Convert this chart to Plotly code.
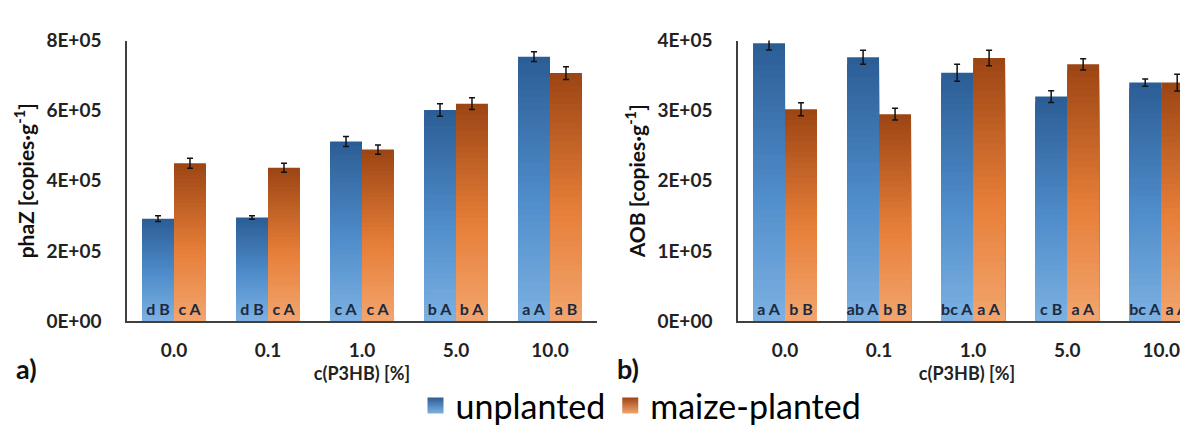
import plotly.graph_objects as go

categories = ["0.0", "0.1", "1.0", "5.0", "10.0"]

phaz_unplanted = [2.92e5, 2.95e5, 5.12e5, 6.02e5, 7.54e5]
phaz_unplanted_err = [8e3, 5e3, 1.4e4, 1.8e4, 1.4e4]
phaz_maize = [4.50e5, 4.37e5, 4.89e5, 6.20e5, 7.07e5]
phaz_maize_err = [1.4e4, 1.3e4, 1.3e4, 1.7e4, 1.8e4]
phaz_unplanted_lbl = ["d B", "d B", "c A", "b A", "a A"]
phaz_maize_lbl = ["c A", "c A", "c A", "b A", "a B"]

aob_unplanted = [3.96e5, 3.76e5, 3.54e5, 3.20e5, 3.40e5]
aob_unplanted_err = [9.5e3, 1.0e4, 1.2e4, 8.4e3, 5.3e3]
aob_maize = [3.02e5, 2.95e5, 3.75e5, 3.66e5, 3.40e5]
aob_maize_err = [9.3e3, 8.5e3, 1.1e4, 8e3, 1.2e4]
aob_unplanted_lbl = ["a A", "ab A", "bc A", "c B", "bc A"]
aob_maize_lbl = ["b B", "b B", "a A", "a A", "a A"]

phaz_ticks = [0, 2e5, 4e5, 6e5, 8e5]
phaz_ticktext = ["0E+00", "2E+05", "4E+05", "6E+05", "8E+05"]
aob_ticks = [0, 1e5, 2e5, 3e5, 4e5]
aob_ticktext = ["0E+00", "1E+05", "2E+05", "3E+05", "4E+05"]

FONT = "Lato"
N_SEG = 40

# gradient stops (bottom -> top)
BLUE_STOPS = [(0.0, (124, 177, 226)), (0.45, (80, 141, 203)), (1.0, (43, 93, 149))]
ORANGE_STOPS = [(0.0, (243, 165, 110)), (0.45, (230, 126, 56)), (1.0, (155, 69, 20))]


def grad(stops, t):
    for (t0, c0), (t1, c1) in zip(stops[:-1], stops[1:]):
        if t <= t1:
            f = (t - t0) / (t1 - t0) if t1 > t0 else 0
            c = [round(a + (b - a) * f) for a, b in zip(c0, c1)]
            return f"rgb({c[0]},{c[1]},{c[2]})"
    c = stops[-1][1]
    return f"rgb({c[0]},{c[1]},{c[2]})"


fig = go.Figure()


def add_series(values, errs, labels, stops, group, xa, ya):
    # nested bars from the baseline: tallest (darkest top colour) first,
    # each shorter bar overlays the lower part -> vertical gradient without seams
    for i in range(N_SEG):
        frac = (N_SEG - i) / N_SEG
        t = (N_SEG - i - 0.5) / N_SEG
        fig.add_trace(go.Bar(
            x=categories,
            y=[v * frac for v in values],
            offsetgroup=group,
            marker=dict(color=grad(stops, t), line=dict(width=0)),
            showlegend=False, hoverinfo="skip",
            xaxis=xa, yaxis=ya,
        ))
    fig.add_trace(go.Bar(
        x=categories, y=values, offsetgroup=group,
        marker=dict(color="rgba(0,0,0,0)", line=dict(width=0)),
        text=labels, textposition="inside", insidetextanchor="start",
        textangle=0, constraintext="none",
        insidetextfont=dict(family=FONT, size=16, color="#1b2a40", weight="bold"),
        error_y=dict(type="data", array=errs, visible=True, color="#111111",
                     thickness=1.5, width=3),
        showlegend=False, xaxis=xa, yaxis=ya,
    ))


add_series(phaz_unplanted, phaz_unplanted_err, phaz_unplanted_lbl, BLUE_STOPS, "u", "x", "y")
add_series(phaz_maize, phaz_maize_err, phaz_maize_lbl, ORANGE_STOPS, "m", "x", "y")
add_series(aob_unplanted, aob_unplanted_err, aob_unplanted_lbl, BLUE_STOPS, "u", "x2", "y2")
add_series(aob_maize, aob_maize_err, aob_maize_lbl, ORANGE_STOPS, "m", "x2", "y2")

# legend entries
fig.add_trace(go.Scatter(
    x=[None], y=[None], mode="markers", name="unplanted",
    marker=dict(symbol="square", size=16, color="rgb(43,93,149)",
                gradient=dict(type="vertical", color="rgb(124,177,226)")),
))
fig.add_trace(go.Scatter(
    x=[None], y=[None], mode="markers", name="maize-planted",
    marker=dict(symbol="square", size=16, color="rgb(155,69,20)",
                gradient=dict(type="vertical", color="rgb(243,165,110)")),
))

W, H = 1188, 427
ybot = (H - 323) / H
ytop = (H - 22) / H

xcommon = dict(type="category", showline=True, linecolor="#404040", linewidth=1.5,
               showgrid=False, ticks="", zeroline=False,
               tickfont=dict(family=FONT, size=19, color="#222", weight="bold"),
               ticklabelstandoff=11,
               title=dict(text="c(P3HB) [%]", standoff=8,
                          font=dict(family=FONT, size=18, color="#222", weight="bold")))
ycommon = dict(showline=True, linecolor="#404040", linewidth=1.5, showgrid=False,
               ticks="", zeroline=False, domain=[ybot, ytop],
               tickfont=dict(family=FONT, size=19, color="#222", weight="bold"),
               ticklabelstandoff=20)

fig.update_layout(
    width=W, height=H,
    margin=dict(l=0, r=0, t=0, b=0),
    paper_bgcolor="white", plot_bgcolor="white",
    barmode="group", bargap=0.32, bargroupgap=0,
    xaxis=dict(**xcommon, domain=[119 / W, 589 / W], range=[-0.5, 4.5], anchor="y"),
    yaxis=dict(**ycommon, range=[0, 8e5], tickvals=phaz_ticks, ticktext=phaz_ticktext,
               anchor="x",
               title=dict(text="phaZ [copies·g<sup>-1</sup>]", standoff=6,
                          font=dict(family=FONT, size=21, color="#111", weight="bold"))),
    xaxis2=dict(**xcommon, domain=[730 / W, 1.0], range=[-0.5, 4.37], anchor="y2"),
    yaxis2=dict(**ycommon, range=[0, 4e5], tickvals=aob_ticks, ticktext=aob_ticktext,
                anchor="x2",
                title=dict(text="AOB [copies·g<sup>-1</sup>]", standoff=6,
                           font=dict(family=FONT, size=21, color="#111", weight="bold"))),
    legend=dict(orientation="h", x=633 / W, xanchor="center", y=13 / H, yanchor="middle",
                font=dict(family=FONT, size=34, color="#000"), itemsizing="trace",
                bgcolor="rgba(0,0,0,0)"),
    annotations=[
        dict(text="a)", x=6 / W, y=(H - 374) / H, xref="paper", yref="paper",
             xanchor="left", yanchor="middle", showarrow=False,
             font=dict(family=FONT, size=27, color="#111", weight="bold")),
        dict(text="b)", x=607 / W, y=(H - 374) / H, xref="paper", yref="paper",
             xanchor="left", yanchor="middle", showarrow=False,
             font=dict(family=FONT, size=27, color="#111", weight="bold")),
    ],
)

fig.write_html("out.html")
